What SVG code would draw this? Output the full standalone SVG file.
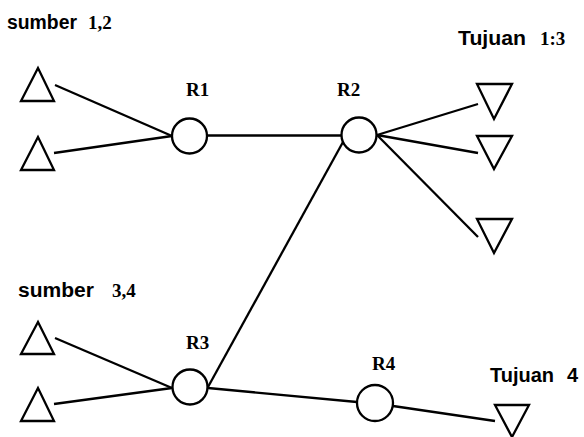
<svg xmlns="http://www.w3.org/2000/svg" width="584" height="437" viewBox="0 0 584 437">
<style>
.s{fill:none;stroke:#000;stroke-width:2.3;stroke-linejoin:miter}
.n{fill:#fff;stroke:#000;stroke-width:2.3}
.lbl{font-family:"Liberation Sans",Arial,sans-serif;font-weight:bold;font-size:20px;fill:#000}
.num{font-family:"Liberation Serif","Times New Roman",serif;font-weight:bold;font-size:19px;fill:#000}
.r{font-family:"Liberation Serif","Times New Roman",serif;font-weight:bold;font-size:19px;fill:#000}
</style>
<rect width="584" height="437" fill="#fff"/>
<g id="connectors" class="s">
<line x1="55" y1="85" x2="172" y2="136"/>
<line x1="54" y1="153" x2="172" y2="136"/>
<line x1="207" y1="135.5" x2="341" y2="135.5"/>
<line x1="377" y1="135" x2="478" y2="104"/>
<line x1="377" y1="135" x2="478" y2="153"/>
<line x1="377" y1="135" x2="478" y2="237"/>
<line x1="208" y1="387" x2="343" y2="142"/>
<line x1="55" y1="338" x2="172" y2="388"/>
<line x1="54" y1="404" x2="172" y2="388"/>
<line x1="208" y1="388" x2="357" y2="402"/>
<line x1="393" y1="406" x2="495" y2="421"/>
</g>
<g id="labels">
<text class="lbl" x="7" y="29" textLength="70" lengthAdjust="spacingAndGlyphs">sumber</text>
<text class="num" x="88" y="29">1,2</text>
<text class="lbl" x="458" y="45" textLength="68" lengthAdjust="spacingAndGlyphs">Tujuan</text>
<text class="num" x="540" y="45">1:3</text>
<text class="lbl" x="18" y="297" textLength="76" lengthAdjust="spacingAndGlyphs">sumber</text>
<text class="num" x="112" y="297">3,4</text>
<text class="lbl" x="490" y="382" textLength="64" lengthAdjust="spacingAndGlyphs">Tujuan</text>
<text class="lbl" x="567" y="382">4</text>
</g>
<g id="src1"><polygon class="s" points="38,68 21,101 54,101"/></g>
<g id="src2"><polygon class="s" points="38,137 21,170 54,170"/></g>
<g id="src3"><polygon class="s" points="38,322 21,354 54,354"/></g>
<g id="src4"><polygon class="s" points="38,388 21,421 54,421"/></g>
<g id="dst1"><polygon class="s" points="477,84 512,84 494,119"/></g>
<g id="dst2"><polygon class="s" points="477,136 512,136 494,169"/></g>
<g id="dst3"><polygon class="s" points="477,219 512,219 494,253"/></g>
<g id="dst4"><polygon class="s" points="495,405 529,405 512,437"/></g>
<g id="R1"><circle class="n" cx="189.5" cy="136" r="17.5"/><text class="r" x="186" y="96">R1</text></g>
<g id="R2"><circle class="n" cx="359" cy="135" r="17.5"/><text class="r" x="337" y="96">R2</text></g>
<g id="R3"><circle class="n" cx="190" cy="387" r="17.5"/><text class="r" x="186" y="349">R3</text></g>
<g id="R4"><circle class="n" cx="375" cy="403" r="18"/><text class="r" x="372" y="370">R4</text></g>
</svg>
